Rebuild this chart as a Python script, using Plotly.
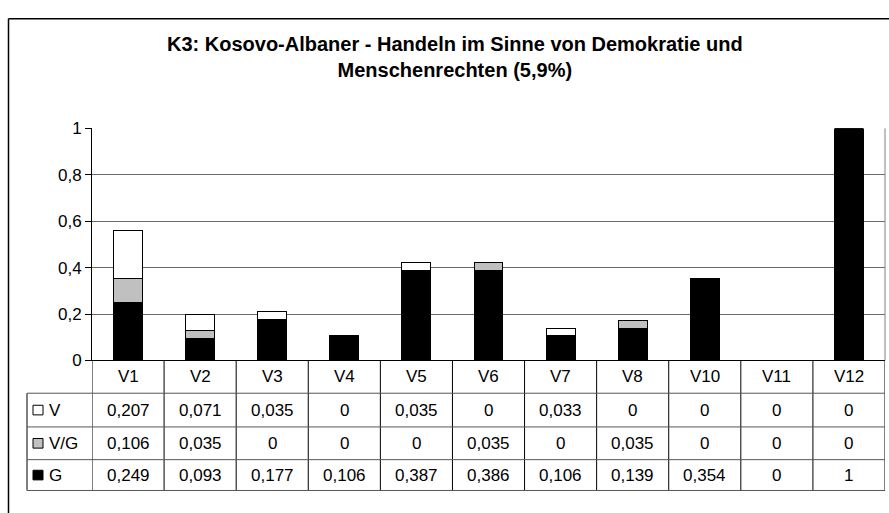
import plotly.graph_objects as go

categories = ["V1", "V2", "V3", "V4", "V5", "V6", "V7", "V8", "V10", "V11", "V12"]
series_names = ["V", "V/G", "G"]
v_vals = [0.207, 0.071, 0.035, 0, 0.035, 0, 0.033, 0, 0, 0, 0]
vg_vals = [0.106, 0.035, 0, 0, 0, 0.035, 0, 0.035, 0, 0, 0]
g_vals = [0.249, 0.093, 0.177, 0.106, 0.387, 0.386, 0.106, 0.139, 0.354, 0, 1]
y_tick_vals = [0, 0.2, 0.4, 0.6, 0.8, 1]
y_tick_labels = ["0", "0,2", "0,4", "0,6", "0,8", "1"]
title_lines = ["K3: Kosovo-Albaner - Handeln im Sinne von Demokratie und",
               "Menschenrechten (5,9%)"]

W, H = 889, 513
FONT = "Arial, Liberation Sans, sans-serif"
colors = {"V": "#ffffff", "V/G": "#c0c0c0", "G": "#000000"}
series_vals = {"V": v_vals, "V/G": vg_vals, "G": g_vals}


def px(x):
    return x / W


def py(y):
    return 1 - y / H


def fmt(v):
    return f"{v:g}".replace(".", ",")


# layout constants (screen pixels)
plot_left, plot_right = 92, 885
plot_top, plot_bottom = 124, 365
row_lines = [399, 434, 468, 500]
table_left = 27

fig = go.Figure()
for name in ["G", "V/G", "V"]:
    fig.add_trace(go.Bar(
        x=categories, y=series_vals[name], name=name,
        marker=dict(color=colors[name], line=dict(color="#000000", width=1)),
        width=0.4, showlegend=False,
    ))

shapes = []
annotations = []

# outer chart border (cropped: only top and left visible)
shapes.append(dict(type="line", xref="paper", yref="paper", x0=px(8.5), x1=px(W + 20),
                   y0=py(10), y1=py(10), line=dict(color="#000", width=1.5)))
shapes.append(dict(type="line", xref="paper", yref="paper", x0=px(8.5), x1=px(8.5),
                   y0=py(10), y1=py(H + 20), line=dict(color="#000", width=1.5)))

# plot area right border
shapes.append(dict(type="line", xref="paper", yref="paper", x0=px(plot_right), x1=px(plot_right),
                   y0=py(plot_top), y1=py(plot_bottom), line=dict(color="#808080", width=1)))

# data table: vertical lines at category boundaries
n = len(categories)
for i in range(n + 1):
    shapes.append(dict(type="line", xref="x", yref="paper", x0=i - 0.5, x1=i - 0.5,
                       y0=py(plot_bottom), y1=py(row_lines[-1]),
                       line=dict(color="#000", width=1)))
# legend column left border
shapes.append(dict(type="line", xref="paper", yref="paper", x0=px(table_left), x1=px(table_left),
                   y0=py(row_lines[0]), y1=py(row_lines[-1]), line=dict(color="#000", width=1)))
# horizontal row lines
for yl in row_lines:
    shapes.append(dict(type="line", xref="paper", yref="paper", x0=px(table_left), x1=px(plot_right),
                       y0=py(yl), y1=py(yl), line=dict(color="#555", width=1)))

# header labels (categories)
for i, c in enumerate(categories):
    annotations.append(dict(x=i, y=py((plot_bottom + row_lines[0]) / 2), xref="x", yref="paper",
                            text=c, showarrow=False, xanchor="center", yanchor="middle",
                            font=dict(family=FONT, size=17, color="#000")))

# table rows with legend keys
for r, name in enumerate(series_names):
    yc = (row_lines[r] + row_lines[r + 1]) / 2
    shapes.append(dict(type="rect", xref="paper", yref="paper",
                       x0=px(33), x1=px(43), y0=py(yc - 5), y1=py(yc + 5),
                       fillcolor=colors[name], line=dict(color="#000", width=1)))
    annotations.append(dict(x=px(47), y=py(yc), xref="paper", yref="paper", text=name,
                            showarrow=False, xanchor="left", yanchor="middle",
                            font=dict(family=FONT, size=17, color="#000")))
    for i, v in enumerate(series_vals[name]):
        annotations.append(dict(x=i, y=py(yc), xref="x", yref="paper", text=fmt(v),
                                showarrow=False, xanchor="center", yanchor="middle",
                                font=dict(family=FONT, size=17, color="#000")))

# title
annotations.append(dict(x=px(455), y=py(50), xref="paper", yref="paper",
                        text="<b>" + title_lines[0] + "</b><br><b>" + title_lines[1] + "</b>",
                        showarrow=False, xanchor="center", yanchor="middle",
                        font=dict(family=FONT, size=20, color="#000")))

fig.update_layout(
    width=W, height=H,
    margin=dict(l=0, r=0, t=0, b=0),
    paper_bgcolor="#ffffff", plot_bgcolor="#ffffff",
    barmode="stack",
    bargap=0.6,
    shapes=shapes,
    annotations=annotations,
    xaxis=dict(domain=[px(plot_left), px(plot_right)], range=[-0.5, n - 0.5],
               showticklabels=False, ticks="", showgrid=False, zeroline=False,
               showline=True, linecolor="#000", linewidth=1, fixedrange=True),
    yaxis=dict(domain=[py(plot_bottom), py(plot_top)], range=[0, 1],
               tickvals=y_tick_vals, ticktext=y_tick_labels,
               ticks="outside", ticklen=6, tickcolor="#000",
               showline=True, linecolor="#000", linewidth=1,
               showgrid=True, gridcolor="#6a6a6a", gridwidth=1, zeroline=False,
               tickfont=dict(family=FONT, size=17, color="#000"), fixedrange=True),
)

fig.write_html(
    "out.html",
    config={"displayModeBar": False},
    post_script="document.documentElement.style.margin='0';"
                "document.body.style.margin='0';document.body.style.overflow='hidden';",
)
